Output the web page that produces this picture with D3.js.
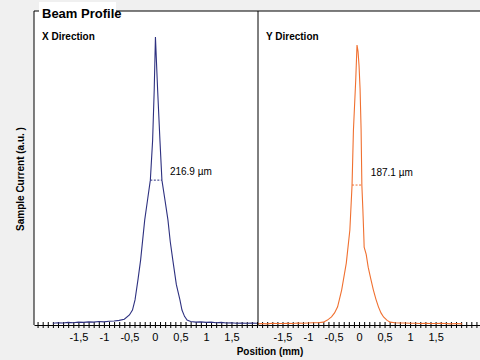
<!DOCTYPE html>
<html>
<head>
<meta charset="utf-8">
<script src="https://cdn.jsdelivr.net/npm/d3@7"></script>
<style>
  body { margin: 0; background: #f0f0f0; }
  svg { display: block; font-family: "Liberation Sans", Arial, sans-serif; }
</style>
</head>
<body>
<svg id="chart"></svg>
<script>
// X direction profile (position in mm, normalised current)
const xPos = [-2.0,-1.9,-1.8,-1.7,-1.6,-1.5,-1.4,-1.3,-1.2,-1.1,-1.0,-0.9,-0.8,-0.7,-0.6,-0.5,
  -0.44,-0.39,-0.33,-0.28,-0.2,-0.14,-0.09,-0.045,-0.014,0.01,
  0.053,0.098,0.137,0.2,0.255,0.3,0.35,0.42,0.49,0.53,0.58,0.63,
  0.7,0.8,0.9,1.0,1.1,1.2,1.3,1.4,1.5,1.6,1.7,1.8,1.9,2.0];
const xVal = [0.006,0.008,0.007,0.009,0.008,0.01,0.009,0.011,0.01,0.012,0.011,0.013,0.014,0.016,0.02,0.035,
  0.052,0.087,0.16,0.226,0.365,0.44,0.503,0.642,0.816,1.0,
  0.816,0.642,0.503,0.43,0.365,0.29,0.226,0.14,0.087,0.052,0.03,0.017,
  0.012,0.01,0.011,0.009,0.01,0.008,0.009,0.007,0.008,0.006,0.007,0.006,0.007,0.006];

// Y direction profile
const yPos = [-1.98,-1.9,-1.8,-1.7,-1.6,-1.5,-1.4,-1.3,-1.2,-1.1,-1.0,-0.9,-0.8,-0.7,
  -0.62,-0.54,-0.48,-0.42,-0.34,-0.25,-0.18,-0.137,-0.11,-0.065,-0.04,
  -0.02,0.0,0.02,0.04,0.055,0.075,0.095,0.1,0.14,0.18,0.23,0.28,0.33,0.38,0.43,0.48,0.55,0.61,
  0.7,0.8,0.9,1.0,1.1,1.2,1.3,1.4,1.5,1.6,1.7,1.8,1.9,2.02];
const yVal = [0.004,0.005,0.004,0.006,0.005,0.005,0.006,0.005,0.007,0.006,0.007,0.008,0.008,0.01,
  0.017,0.028,0.042,0.063,0.122,0.215,0.33,0.486,0.677,0.851,0.972,
  0.95,0.9,0.82,0.68,0.486,0.4,0.3,0.27,0.245,0.2,0.16,0.122,0.09,0.063,0.042,0.028,0.016,0.01,
  0.008,0.007,0.007,0.006,0.006,0.005,0.006,0.005,0.005,0.006,0.005,0.004,0.005,0.004];

const panelTitles = ["X Direction", "Y Direction"];
const panelColors = ["#2e3180", "#f07030"];
const fwhmLabels = ["216.9 µm", "187.1 µm"];
const fwhmLeft = [-0.09, -0.137];
const fwhmRight = [0.137, 0.055];
const fwhmLevel = [0.503, 0.486];
const labelTicks = [-1.5, -1, -0.5, 0, 0.5, 1, 1.5];

const width = 480, height = 360;
const plotTop = 11, plotBottom = 325;

const svg = d3.select("#chart").attr("width", width).attr("height", height);

// white plot area
svg.append("rect").attr("x", 34).attr("y", plotTop).attr("width", width - 34).attr("height", plotBottom - plotTop)
  .attr("fill", "#fff");

const yScale = d3.scaleLinear().domain([0, 1]).range([plotBottom, 37]);

const panels = [
  { pos: xPos, val: xVal, domain: [-2.37, 2.02], range: [34, 258] },
  { pos: yPos, val: yVal, domain: [-1.98, 2.37], range: [258, 480] }
];

panels.forEach((p, i) => {
  const xScale = d3.scaleLinear().domain(p.domain).range(p.range);
  const data = p.pos.map((d, j) => ({ x: d, v: p.val[j] }));

  // minor cross ticks every 0.1 mm
  const minor = d3.range(Math.ceil(p.domain[0] * 10), Math.floor(p.domain[1] * 10) + 1).map(d => d / 10);
  const gMinor = svg.append("g")
    .attr("transform", `translate(0,${plotBottom})`)
    .call(d3.axisBottom(xScale).tickValues(minor).tickSizeInner(3).tickSizeOuter(0).tickFormat(""));
  gMinor.select(".domain").attr("stroke", "#000");
  gMinor.selectAll(".tick line").attr("y1", -3).attr("stroke", "#000");

  // labels
  const gLab = svg.append("g")
    .attr("transform", `translate(0,${plotBottom})`)
    .call(d3.axisBottom(xScale).tickValues(labelTicks).tickSize(0).tickPadding(8)
      .tickFormat(d => String(d).replace(".", ",")));
  gLab.select(".domain").remove();
  gLab.selectAll("text").attr("font-size", 11).attr("font-family", "Liberation Sans, Arial, sans-serif")
    .attr("fill", "#000");

  const line = d3.line().x(d => xScale(d.x)).y(d => yScale(d.v));
  svg.append("path").datum(data)
    .attr("d", line)
    .attr("fill", "none")
    .attr("stroke", panelColors[i])
    .attr("stroke-width", 1.1);

  // FWHM marker
  svg.append("line")
    .attr("x1", xScale(fwhmLeft[i])).attr("x2", xScale(fwhmRight[i]))
    .attr("y1", yScale(fwhmLevel[i])).attr("y2", yScale(fwhmLevel[i]))
    .attr("stroke", panelColors[i]).attr("stroke-width", 1)
    .attr("stroke-dasharray", "2,1.5");

  svg.append("text")
    .attr("x", xScale(fwhmRight[i]) + (i === 0 ? 8 : 9))
    .attr("y", yScale(fwhmLevel[i]) - (i === 0 ? 5 : 9))
    .attr("font-size", 10)
    .text(fwhmLabels[i]);

  svg.append("text")
    .attr("x", p.range[0] + 8)
    .attr("y", 40)
    .attr("font-size", 10)
    .attr("font-weight", "bold")
    .text(panelTitles[i]);
});

// frame lines
svg.append("line").attr("x1", 34).attr("x2", width).attr("y1", plotTop).attr("y2", plotTop).attr("stroke", "#000");
svg.append("line").attr("x1", 34).attr("x2", 34).attr("y1", plotTop).attr("y2", plotBottom).attr("stroke", "#000");
svg.append("line").attr("x1", 258).attr("x2", 258).attr("y1", plotTop).attr("y2", plotBottom).attr("stroke", "#000");

// main title with white backing
svg.append("rect").attr("x", 39).attr("y", 2).attr("width", 77).attr("height", 10).attr("fill", "#fff");
svg.append("text").attr("x", 42).attr("y", 18)
  .attr("font-size", 13).attr("font-weight", "bold")
  .text("Beam Profile");

// axis titles
svg.append("text").attr("x", 270).attr("y", 355)
  .attr("text-anchor", "middle").attr("font-size", 10).attr("font-weight", "bold")
  .text("Position (mm)");

svg.append("text")
  .attr("transform", "translate(24,179) rotate(-90)")
  .attr("text-anchor", "middle").attr("font-size", 10).attr("font-weight", "bold")
  .text("Sample Current (a.u. )");
</script>
</body>
</html>
